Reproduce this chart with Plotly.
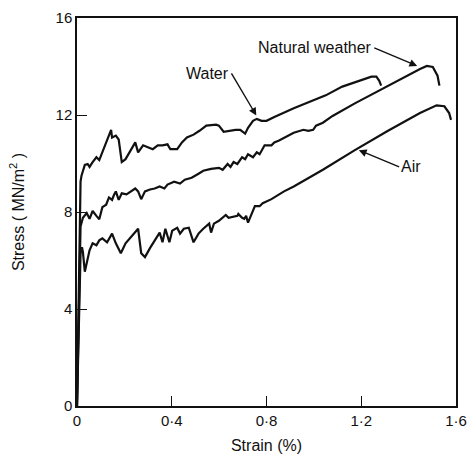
import plotly.graph_objects as go

# Strain (%) / Stress (MN/m^2)
water_x = [0, 0.015, 0.019, 0.033, 0.045, 0.053, 0.066, 0.082, 0.094, 0.107, 0.123, 0.127, 0.144, 0.148,
           0.164, 0.176, 0.189, 0.205, 0.226, 0.246, 0.258, 0.279, 0.299, 0.32, 0.341, 0.361, 0.382, 0.394,
           0.423, 0.443, 0.464, 0.492, 0.517, 0.546, 0.587, 0.599, 0.619, 0.64, 0.669, 0.689, 0.71, 0.722,
           0.743, 0.759, 0.779, 0.8, 0.833, 0.915, 0.997, 1.05, 1.12, 1.202, 1.243, 1.264, 1.276, 1.284]
water_y = [0, 9.25, 9.5, 9.94, 9.98, 9.86, 10.06, 10.26, 10.14, 10.46, 10.87, 10.99, 11.39, 11.07,
           11.15, 10.99, 10.06, 10.18, 10.55, 10.87, 10.46, 10.75, 10.67, 10.59, 10.75, 10.75, 10.79, 10.59,
           10.59, 10.87, 11.07, 11.19, 11.35, 11.56, 11.6, 11.56, 11.31, 11.35, 11.39, 11.39, 11.23, 11.47,
           11.76, 11.84, 11.76, 11.76, 11.92, 12.28, 12.61, 12.81, 13.17, 13.45, 13.58, 13.58, 13.41, 13.21]

natural_x = [0, 0.015, 0.025, 0.041, 0.053, 0.066, 0.082, 0.094, 0.107, 0.123, 0.135, 0.148, 0.156, 0.164,
             0.176, 0.189, 0.209, 0.226, 0.246, 0.258, 0.271, 0.287, 0.308, 0.328, 0.349, 0.369, 0.382, 0.41,
             0.435, 0.455, 0.484, 0.513, 0.533, 0.566, 0.599, 0.615, 0.636, 0.648, 0.661, 0.677, 0.697, 0.71,
             0.722, 0.743, 0.759, 0.771, 0.792, 0.821, 0.833, 0.853, 0.874, 0.915, 0.956, 0.976, 0.997, 1.009,
             1.038, 1.079, 1.173, 1.313, 1.448, 1.477, 1.502, 1.522, 1.53]
natural_y = [0, 7.4, 7.76, 7.96, 7.72, 8.04, 7.84, 7.7, 8.2, 8.3, 8.6, 8.5, 8.7, 8.85,
             8.5, 8.77, 8.73, 8.85, 8.97, 8.85, 8.53, 8.85, 8.93, 8.97, 9.05, 8.97, 9.13, 9.25,
             9.17, 9.33, 9.41, 9.58, 9.7, 9.78, 9.82, 9.74, 9.98, 9.86, 10.06, 9.98, 10.26, 10.18,
             10.38, 10.26, 10.46, 10.38, 10.75, 10.75, 10.87, 10.95, 11.07, 11.27, 11.39, 11.35, 11.39, 11.56,
             11.68, 11.96, 12.48, 13.21, 13.9, 14.02, 13.98, 13.62, 13.21]

air_x = [0, 0.015, 0.021, 0.025, 0.033, 0.041, 0.053, 0.066, 0.082, 0.094, 0.107, 0.127, 0.148, 0.164,
         0.185, 0.205, 0.226, 0.246, 0.258, 0.271, 0.287, 0.308, 0.328, 0.349, 0.361, 0.373, 0.39, 0.402,
         0.423, 0.435, 0.451, 0.472, 0.492, 0.513, 0.533, 0.546, 0.558, 0.566, 0.578, 0.599, 0.628, 0.64,
         0.656, 0.677, 0.681, 0.697, 0.706, 0.714, 0.722, 0.738, 0.751, 0.771, 0.784, 0.821, 0.874, 0.915,
         1.038, 1.173, 1.313, 1.448, 1.518, 1.551, 1.571, 1.579]
air_y = [0, 6.3, 6.55, 6.34, 5.54, 5.9, 6.42, 6.71, 6.63, 6.83, 6.91, 6.75, 7.11, 6.71,
         6.3, 6.71, 6.95, 7.15, 7.31, 6.3, 6.14, 6.51, 6.83, 7.15, 6.75, 7.31, 6.75, 7.23,
         7.35, 7.11, 7.31, 7.35, 6.75, 7.11, 7.31, 7.43, 7.52, 7.15, 7.52, 7.64, 7.88, 7.76,
         7.8, 7.84, 7.92, 7.76, 7.72, 7.84, 7.56, 7.96, 8.24, 8.24, 8.36, 8.53, 8.85, 9.05,
         9.74, 10.55, 11.35, 12.08, 12.4, 12.36, 12.08, 11.8]

x_ticks = [0, 0.4, 0.8, 1.2, 1.6]
x_tick_labels = ["0", "0·4", "0·8", "1·2", "1·6"]
y_ticks = [0, 4, 8, 12, 16]
y_tick_labels = ["0", "4", "8", "12", "16"]

# label text, arrow tail (at text edge), arrow tip, text anchors
labels = [
    ("Water", 0.652, 13.72, 0.757, 11.98, "right", "middle"),
    ("Natural weather", 1.255, 14.77, 1.436, 14.02, "right", "middle"),
    ("Air", 1.36, 9.86, 1.19, 10.55, "left", "middle"),
]

FONT = "Liberation Sans, Arial, sans-serif"
fig = go.Figure()
for xs, ys in [(water_x, water_y), (natural_x, natural_y), (air_x, air_y)]:
    fig.add_trace(go.Scatter(x=xs, y=ys, mode="lines",
                             line=dict(color="#111111", width=2.2), showlegend=False,
                             hoverinfo="skip"))

annotations = []
for text, ax, ay, hx, hy, xa, ya in labels:
    annotations.append(dict(x=hx, y=hy, ax=ax, ay=ay, xref="x", yref="y", axref="x", ayref="y",
                            text=text, xanchor=xa, yanchor=ya,
                            font=dict(family=FONT, size=16, color="#111111"),
                            showarrow=True, arrowhead=2, arrowsize=1.1, arrowwidth=1.4,
                            arrowcolor="#111111"))

fig.update_layout(
    width=476, height=461,
    margin=dict(l=77, r=9, t=13, b=52),
    paper_bgcolor="white", plot_bgcolor="white",
    font=dict(family=FONT, size=15, color="#111111"),
    annotations=annotations,
)
fig.update_xaxes(range=[0, 1.6], tickvals=x_ticks, ticktext=x_tick_labels,
                 showline=True, linecolor="#111111", linewidth=1.5, mirror=True,
                 ticks="inside", ticklen=10, tickwidth=1, tickcolor="#111111",
                 showgrid=False, zeroline=False,
                 title=dict(text="Strain (%)", standoff=12, font=dict(size=16)))
fig.update_yaxes(range=[0, 16], tickvals=y_ticks, ticktext=y_tick_labels,
                 showline=True, linecolor="#111111", linewidth=1.5, mirror=True,
                 ticks="inside", ticklen=10, tickwidth=1, tickcolor="#111111",
                 showgrid=False, zeroline=False,
                 title=dict(text="Stress ( MN/m<sup>2</sup> )", standoff=27, font=dict(size=16)))

fig.write_html("out.html")
